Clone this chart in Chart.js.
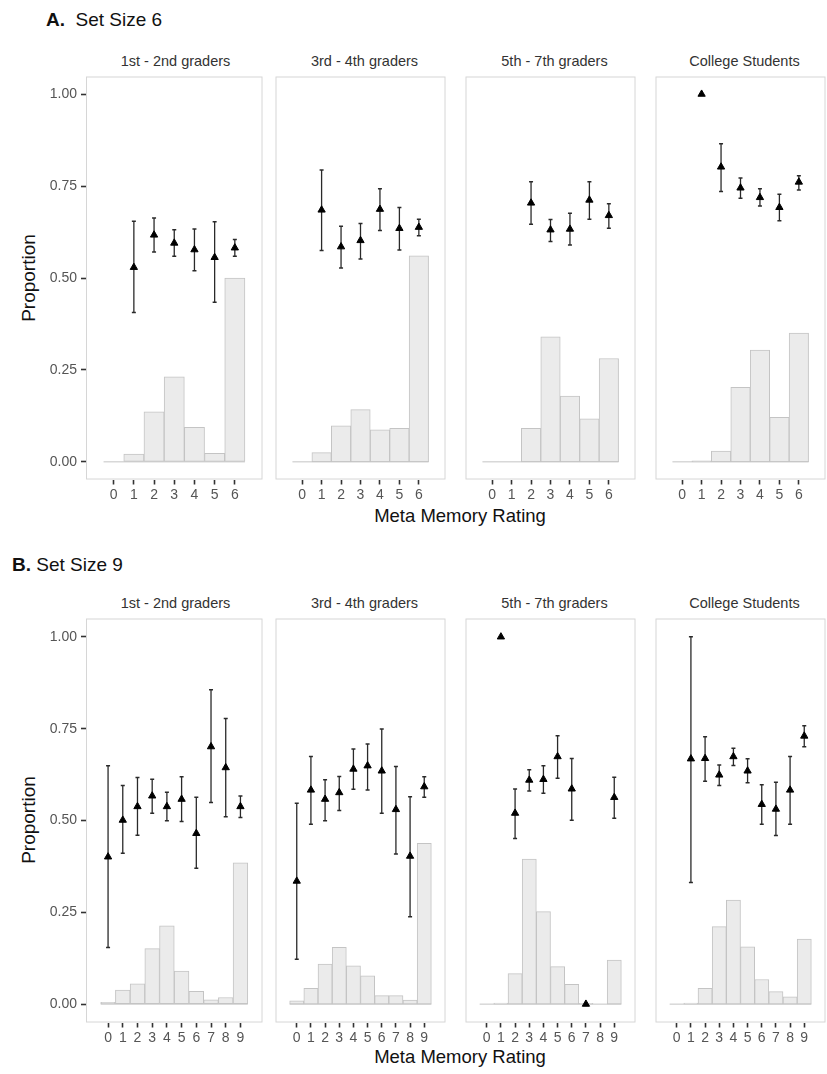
<!DOCTYPE html>
<html><head><meta charset="utf-8">
<script src="https://cdn.jsdelivr.net/npm/chart.js@4.4.1/dist/chart.umd.min.js"></script>
<style>
html,body{margin:0;padding:0;background:#fff;overflow:hidden;width:827px;height:1074px;position:relative;font-family:"Liberation Sans",Arial,sans-serif;}
canvas{position:absolute;}
.strip{position:absolute;font-size:14.5px;color:#333;text-align:center;width:179px;line-height:18px;white-space:nowrap;}
.title{position:absolute;font-size:19px;color:#111;line-height:22px;white-space:nowrap;}
.ytitle{position:absolute;font-size:19px;color:#111;transform:rotate(-90deg);transform-origin:center center;width:140px;text-align:center;line-height:22px;white-space:nowrap;}
.xtitle{position:absolute;font-size:18.5px;color:#111;width:400px;text-align:center;line-height:22px;white-space:nowrap;}
</style></head><body>
<script>
const ratingsA = [0,1,2,3,4,5,6];
const ratingsB = [0,1,2,3,4,5,6,7,8,9];
const groupNames = ["1st - 2nd graders","3rd - 4th graders","5th - 7th graders","College Students"];
const yTicks = [0, 0.25, 0.5, 0.75, 1];
const yTickLabels = ["0.00","0.25","0.50","0.75","1.00"];

// A. Set Size 6
const propA1 = [0, 0.021, 0.136, 0.231, 0.094, 0.023, 0.500];
const meanA1 = [null, 0.529, 0.617, 0.595, 0.577, 0.556, 0.582];
const loA1   = [null, 0.406, 0.571, 0.559, 0.520, 0.434, 0.559];
const hiA1   = [null, 0.654, 0.663, 0.631, 0.633, 0.653, 0.605];

const propA2 = [0, 0.025, 0.098, 0.142, 0.087, 0.091, 0.560];
const meanA2 = [null, 0.685, 0.585, 0.602, 0.687, 0.635, 0.638];
const loA2   = [null, 0.575, 0.527, 0.552, 0.629, 0.576, 0.615];
const hiA2   = [null, 0.794, 0.641, 0.648, 0.743, 0.692, 0.660];

const propA3 = [0, 0, 0.091, 0.340, 0.179, 0.117, 0.281];
const meanA3 = [null, null, 0.704, 0.631, 0.633, 0.712, 0.670];
const loA3   = [null, null, 0.646, 0.599, 0.590, 0.660, 0.635];
const hiA3   = [null, null, 0.762, 0.659, 0.676, 0.762, 0.702];

const propA4 = [0, 0.003, 0.029, 0.203, 0.304, 0.121, 0.350];
const meanA4 = [null, 1.0, 0.802, 0.745, 0.719, 0.692, 0.761];
const loA4   = [null, null, 0.735, 0.717, 0.696, 0.656, 0.739];
const hiA4   = [null, null, 0.865, 0.772, 0.743, 0.728, 0.778];

// B. Set Size 9
const propB1 = [0.005, 0.038, 0.055, 0.151, 0.213, 0.090, 0.035, 0.012, 0.018, 0.385];
const meanB1 = [0.401, 0.501, 0.538, 0.567, 0.538, 0.558, 0.465, 0.701, 0.644, 0.538];
const loB1   = [0.154, 0.411, 0.460, 0.520, 0.499, 0.497, 0.370, 0.549, 0.510, 0.508];
const hiB1   = [0.649, 0.595, 0.617, 0.612, 0.577, 0.619, 0.563, 0.856, 0.778, 0.567];

const propB2 = [0.009, 0.043, 0.109, 0.155, 0.104, 0.077, 0.023, 0.023, 0.011, 0.438];
const meanB2 = [0.335, 0.583, 0.558, 0.576, 0.640, 0.649, 0.635, 0.530, 0.403, 0.592];
const loB2   = [0.122, 0.490, 0.499, 0.527, 0.585, 0.583, 0.520, 0.409, 0.238, 0.563];
const hiB2   = [0.547, 0.674, 0.611, 0.620, 0.695, 0.708, 0.749, 0.647, 0.565, 0.619];

const propB3 = [0, 0.003, 0.083, 0.395, 0.252, 0.102, 0.054, 0.002, 0, 0.120];
const meanB3 = [null, 1.0, 0.520, 0.610, 0.612, 0.674, 0.586, 0.0, null, 0.563];
const loB3   = [null, null, 0.451, 0.580, 0.574, 0.615, 0.501, null, null, 0.506];
const hiB3   = [null, null, 0.586, 0.638, 0.649, 0.731, 0.669, null, null, 0.618];

const propB4 = [0, 0.003, 0.043, 0.211, 0.283, 0.156, 0.067, 0.034, 0.020, 0.177];
const meanB4 = [null, 0.668, 0.669, 0.624, 0.674, 0.635, 0.544, 0.531, 0.583, 0.730];
const loB4   = [null, 0.331, 0.607, 0.595, 0.650, 0.603, 0.490, 0.459, 0.490, 0.701];
const hiB4   = [null, 1.0, 0.728, 0.651, 0.697, 0.668, 0.597, 0.604, 0.674, 0.758];

// ---- layout ----
const FONT = '"Liberation Sans", Arial, sans-serif';
const panelLefts = [86, 275, 465, 655];
const panelW = 179;
const rows = [
  {top:76, h:403, ratings:ratingsA, xMin:-1.37, xMax:7.37, yMin:-0.048, yMax:1.048,
   panels:[[propA1,meanA1,loA1,hiA1],[propA2,meanA2,loA2,hiA2],[propA3,meanA3,loA3,hiA3],[propA4,meanA4,loA4,hiA4]],
   stripY:52, titleY:9, titleX:46, titleHTML:'<b>A.</b>&nbsp;&nbsp;Set Size 6', xTitleY:505, yTitleY:278},
  {top:618, h:404, ratings:ratingsB, xMin:-1.5, xMax:10.5, yMin:-0.05, yMax:1.05,
   panels:[[propB1,meanB1,loB1,hiB1],[propB2,meanB2,loB2,hiB2],[propB3,meanB3,loB3,hiB3],[propB4,meanB4,loB4,hiB4]],
   stripY:594, titleY:554, titleX:12, titleHTML:'<b>B.</b> Set Size 9', xTitleY:1046, yTitleY:820}
];
const AXIS_H = 28;
const borderPlugin = {
  id:'panelBorder',
  afterDatasetsDraw(chart){
    const a = chart.chartArea, ctx = chart.ctx;
    ctx.save();
    ctx.strokeStyle = '#d6d6d6';
    ctx.lineWidth = 1;
    ctx.strokeRect(a.left+0.5, a.top+0.5, a.right-a.left-1, a.bottom-a.top-1);
    ctx.restore();
  }
};
function zeroPad(s){ s.paddingTop = 0; s.paddingBottom = 0; s.paddingLeft = 0; s.paddingRight = 0; }

function addText(cls, x, y, html){
  const d = document.createElement('div');
  d.className = cls; d.style.left = x+'px'; d.style.top = y+'px'; d.innerHTML = html;
  document.body.appendChild(d);
  return d;
}

rows.forEach(row => {
  addText('title', row.titleX, row.titleY, row.titleHTML);
  addText('xtitle', 460-200, row.xTitleY, 'Meta Memory Rating');
  addText('ytitle', 29-70, row.yTitleY-11, 'Proportion');
  row.panels.forEach((p, col) => {
    const [prop, mean, lo, hi] = p;
    const ratings = row.ratings;
    addText('strip', panelLefts[col], row.stripY, groupNames[col]);
    const first = col === 0;
    const leftPad = first ? panelLefts[0] : 0;
    const cv = document.createElement('canvas');
    const W = panelW + leftPad, H = row.h + AXIS_H;
    cv.width = W; cv.height = H;
    const cLeft = panelLefts[col]-leftPad, cTop = row.top;
    cv.style.left = cLeft+'px';
    cv.style.top = cTop+'px';
    cv.style.width = W+'px'; cv.style.height = H+'px';
    document.body.appendChild(cv);

    const barData = ratings.map((r,i)=>({x:r, y:prop[i]}));
    const baseData = [{x:ratings[0]-0.5, y:0},{x:ratings[ratings.length-1]+0.5, y:0}];
    const errData = [];
    ratings.forEach((r,i)=>{
      if (lo[i] !== null && hi[i] !== null) {
        errData.push({x:r, y:lo[i]},{x:r, y:hi[i]},{x:r, y:null});
      }
    });
    const ptData = [];
    ratings.forEach((r,i)=>{ if (mean[i] !== null) ptData.push({x:r, y:mean[i]}); });

    const chart = new Chart(cv, {
      type:'bar',
      data:{datasets:[
        {type:'bar', data:barData, backgroundColor:'#ebebeb', borderColor:'#c4c4c4', borderWidth:1,
         borderSkipped:false, barPercentage:1, categoryPercentage:1, order:3},
        {type:'line', data:baseData, borderColor:'#c4c4c4', borderWidth:1, pointRadius:0, order:2},
        {type:'line', data:errData, borderColor:'#2a2a2a', borderWidth:1.3, spanGaps:false,
         pointStyle:'line', pointRadius:2, pointBorderColor:'#2a2a2a', pointBorderWidth:1.5,
         pointBackgroundColor:'#2a2a2a', order:1},
        {type:'scatter', data:ptData, pointStyle:'triangle', pointRadius:4.2,
         backgroundColor:'#000', borderColor:'#000', borderWidth:1, order:0}
      ]},
      options:{
        responsive:false, animation:false, devicePixelRatio:1,
        layout:{padding:0},
        plugins:{legend:{display:false}, tooltip:{enabled:false}},
        scales:{
          x:{type:'linear', min:row.xMin, max:row.xMax, offset:false,
             afterBuildTicks: s => { s.ticks = ratings.map(v=>({value:v})); },
             afterFit: s => { s.height = AXIS_H; zeroPad(s); },
             grid:{offset:false, drawOnChartArea:false, drawTicks:true, tickLength:5, tickColor:'#333', tickWidth:1.6, color:'#333'},
             border:{display:false},
             ticks:{font:{size:14, family:FONT}, color:'#555', padding:2, maxRotation:0, autoSkip:false,
                    callback:(v)=>String(v)}},
          y:{type:'linear', min:row.yMin, max:row.yMax, display:first, offset:false,
             afterBuildTicks: s => { s.ticks = yTicks.map(v=>({value:v})); },
             afterFit: s => { s.width = leftPad; zeroPad(s); },
             grid:{offset:false, drawOnChartArea:false, drawTicks:true, tickLength:5, tickColor:'#333', tickWidth:1.6, color:'#333'},
             border:{display:false},
             ticks:{font:{size:14, family:FONT}, color:'#555', padding:4,
                    callback:(v,i)=>yTickLabels[i]}}
        }
      },
      plugins:[borderPlugin]
    });
    // align chart area to the intended panel rectangle if layout added any padding
    const a = chart.chartArea;
    const dw = (a.right - a.left) - panelW, dh = (a.bottom - a.top) - row.h;
    if (Math.abs(dw) > 0.5 || Math.abs(dh) > 0.5) {
      const nW = W - dw, nH = H - dh;
      cv.style.width = nW+'px'; cv.style.height = nH+'px';
      chart.resize(nW, nH);
    }
    const b = chart.chartArea;
    cv.style.left = (panelLefts[col] - b.left) + 'px';
    cv.style.top = (row.top - b.top) + 'px';
  });
});
</script>
</body></html>
